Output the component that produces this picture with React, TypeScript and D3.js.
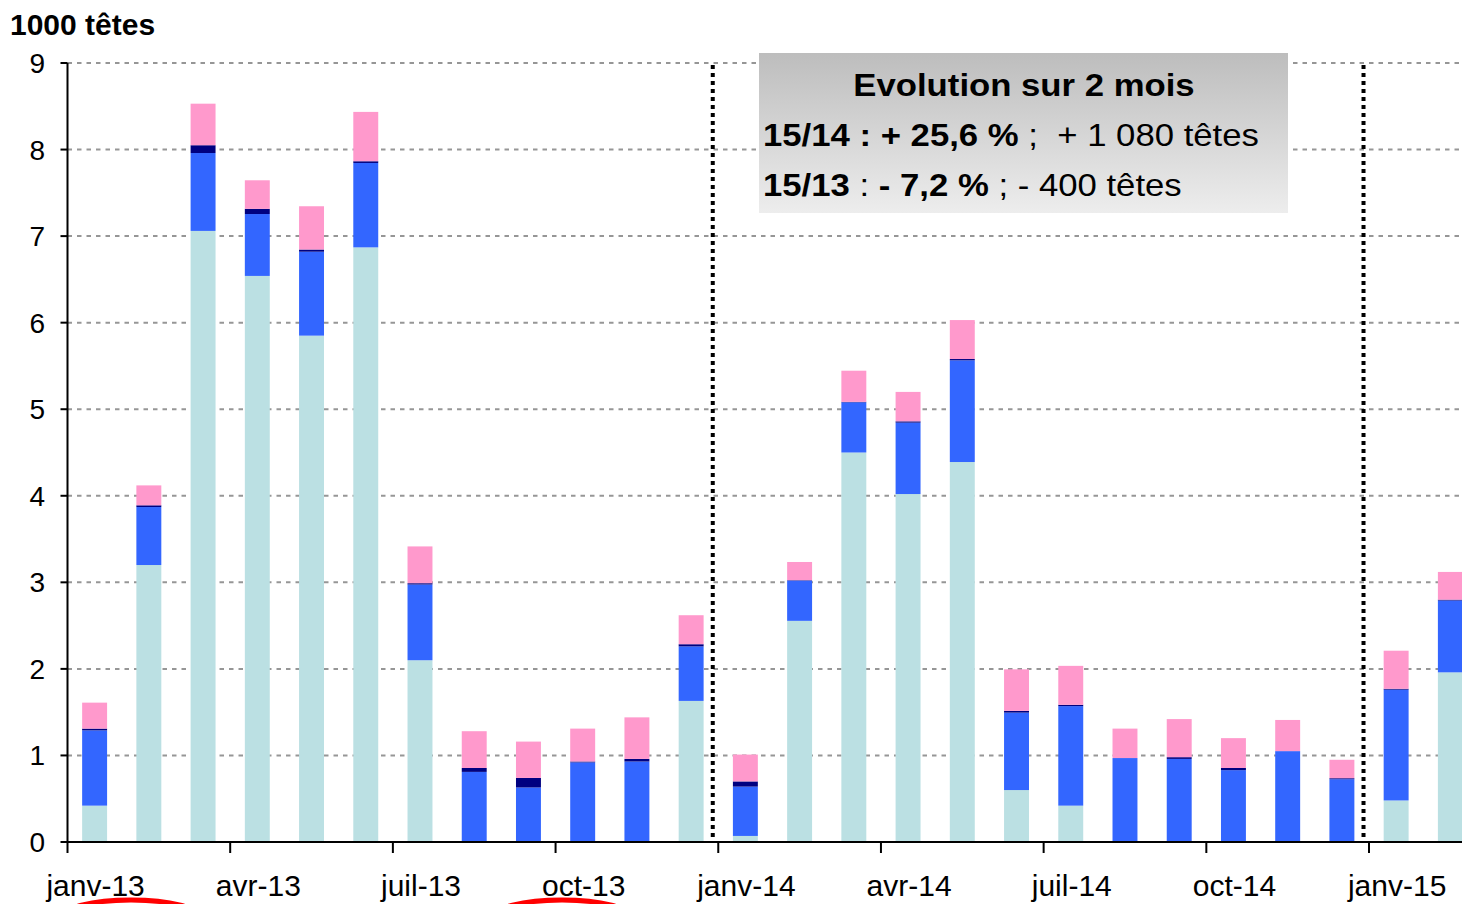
import * as d3 from "d3";

const width = 1462;
const height = 904;
const marginLeft = 67.5;
const marginTop = 63;
const axisY = 842;
const step = 54.23;

const months = [
  "janv-13", "févr-13", "mars-13", "avr-13", "mai-13", "juin-13", "juil-13", "août-13", "sept-13",
  "oct-13", "nov-13", "déc-13", "janv-14", "févr-14", "mars-14", "avr-14", "mai-14", "juin-14",
  "juil-14", "août-14", "sept-14", "oct-14", "nov-14", "déc-14", "janv-15", "févr-15",
];

// values in 1000 head
const teal = [0.42, 3.2, 7.06, 6.54, 5.85, 6.87, 2.1, 0, 0, 0, 0, 1.63, 0.07, 2.555, 4.5, 4.02, 4.39, 0.6, 0.42, 0, 0, 0, 0, 0, 0.48, 1.96];
const blue = [0.87, 0.67, 0.9, 0.715, 0.97, 0.975, 0.875, 0.81, 0.63, 0.92, 0.93, 0.63, 0.57, 0.465, 0.58, 0.825, 1.175, 0.895, 1.15, 0.97, 0.96, 0.83, 1.05, 0.725, 1.28, 0.83];
const navy = [0.02, 0.02, 0.09, 0.06, 0.025, 0.02, 0.015, 0.045, 0.11, 0.01, 0.03, 0.025, 0.06, 0.005, 0.005, 0.015, 0.015, 0.02, 0.015, 0, 0.02, 0.025, 0, 0.012, 0.01, 0.01];
const pink = [0.3, 0.23, 0.48, 0.33, 0.5, 0.57, 0.425, 0.425, 0.42, 0.38, 0.48, 0.335, 0.31, 0.21, 0.36, 0.34, 0.45, 0.48, 0.45, 0.34, 0.44, 0.345, 0.36, 0.213, 0.44, 0.32];

const yTicks = [0, 1, 2, 3, 4, 5, 6, 7, 8, 9];
const tickEvery = 3;

const seriesKeys = ["teal", "blue", "navy", "pink"];
const colors: Record<string, string> = {
  teal: "#BBE0E3",
  blue: "#3366FF",
  navy: "#000080",
  pink: "#FF99CC",
};

const font = "Arial, 'Liberation Sans', sans-serif";
const boxStretch = 1.085;

const App = () => {
  const rows = months.map((m, i) => ({
    month: m,
    teal: teal[i],
    blue: blue[i],
    navy: navy[i],
    pink: pink[i],
  }));

  const x = d3
    .scaleBand<string>()
    .domain(months)
    .range([marginLeft, marginLeft + months.length * step])
    .paddingInner(0.54)
    .paddingOuter(0.27);

  const y = d3.scaleLinear().domain([0, 9]).range([axisY, marginTop]);

  const stacked = d3.stack<any>().keys(seriesKeys)(rows);

  const boundary = (i: number) => marginLeft + i * x.step();
  const center = (m: string) => (x(m) as number) + x.bandwidth() / 2;
  const labelled = months.filter((_, i) => i % tickEvery === 0);

  return (
    <div style={{ position: "absolute", left: 0, top: 0 }}>
      <svg width={width} height={height} viewBox={`0 0 ${width} ${height}`} style={{ display: "block", background: "#fff" }}>
        <defs>
          <linearGradient id="boxFill" x1="0" y1="0" x2="0" y2="1">
            <stop offset="0%" stopColor="#bdbdbd" />
            <stop offset="100%" stopColor="#ededed" />
          </linearGradient>
        </defs>

        {/* gridlines */}
        {yTicks.slice(1).map((t) => (
          <line key={t} x1={marginLeft} x2={width} y1={y(t)} y2={y(t)} stroke="#969696" strokeWidth={2} strokeDasharray="4.5 5" />
        ))}

        {/* stacked bars */}
        {stacked.map((s) => (
          <g key={s.key} fill={colors[s.key]}>
            {s.map((d, i) => {
              const h = y(d[0]) - y(d[1]);
              if (h <= 0) return null;
              return <rect key={i} x={x(months[i])} y={y(d[1])} width={x.bandwidth()} height={h} />;
            })}
          </g>
        ))}

        {/* year separators */}
        {[12, 24].map((i) => (
          <line key={i} x1={boundary(i) - 5.5} x2={boundary(i) - 5.5} y1={marginTop + 2} y2={axisY} stroke="#000" strokeWidth={4} strokeDasharray="4 4" />
        ))}

        {/* y axis */}
        <line x1={marginLeft} x2={marginLeft} y1={marginTop} y2={axisY} stroke="#000" strokeWidth={2} />
        {yTicks.map((t) => (
          <g key={t}>
            <line x1={marginLeft - 7} x2={marginLeft} y1={y(t)} y2={y(t)} stroke="#000" strokeWidth={2} />
            <text x={45} y={y(t) + 10} textAnchor="end" fontFamily={font} fontSize={28} fill="#000">
              {t}
            </text>
          </g>
        ))}

        {/* x axis */}
        <line x1={marginLeft} x2={width} y1={axisY} y2={axisY} stroke="#000" strokeWidth={2} />
        {d3.range(0, months.length + 1, tickEvery).map((i) => (
          <line key={i} x1={boundary(i)} x2={boundary(i)} y1={axisY} y2={axisY + 11} stroke="#000" strokeWidth={2} />
        ))}
        {labelled.map((m) => (
          <text key={m} x={center(m) + 1} y={896} textAnchor="middle" fontFamily={font} fontSize={30} fill="#000">
            {m}
          </text>
        ))}

        {/* red marks under labels */}
        <ellipse cx={131} cy={918} rx={70} ry={18} fill="none" stroke="#FF0000" strokeWidth={5} />
        <ellipse cx={562} cy={918} rx={70} ry={18} fill="none" stroke="#FF0000" strokeWidth={5} />

        {/* unit */}
        <text x={10} y={35} fontFamily={font} fontSize={30} fontWeight="bold" fill="#000">
          1000 têtes
        </text>

        {/* annotation box */}
        <rect x={759} y={53} width={529} height={160} fill="url(#boxFill)" />
        <g transform={`translate(1024,96) scale(${boxStretch},1)`}>
          <text x={0} y={0} textAnchor="middle" fontFamily={font} fontSize={32} fontWeight="bold" fill="#000">
            Evolution sur 2 mois
          </text>
        </g>
        <g transform={`translate(763,146) scale(${boxStretch},1)`}>
          <text x={0} y={0} fontFamily={font} fontSize={32} fill="#000" style={{ whiteSpace: "pre" }}>
            <tspan fontWeight="bold">15/14 : + 25,6 %</tspan>
            <tspan>{" ;  + 1 080 têtes"}</tspan>
          </text>
        </g>
        <g transform={`translate(763,196) scale(${boxStretch},1)`}>
          <text x={0} y={0} fontFamily={font} fontSize={32} fill="#000" style={{ whiteSpace: "pre" }}>
            <tspan fontWeight="bold">15/13</tspan>
            <tspan>{" : "}</tspan>
            <tspan fontWeight="bold">- 7,2 %</tspan>
            <tspan>{" ; - 400 têtes"}</tspan>
          </text>
        </g>
      </svg>
    </div>
  );
};

export default App;
